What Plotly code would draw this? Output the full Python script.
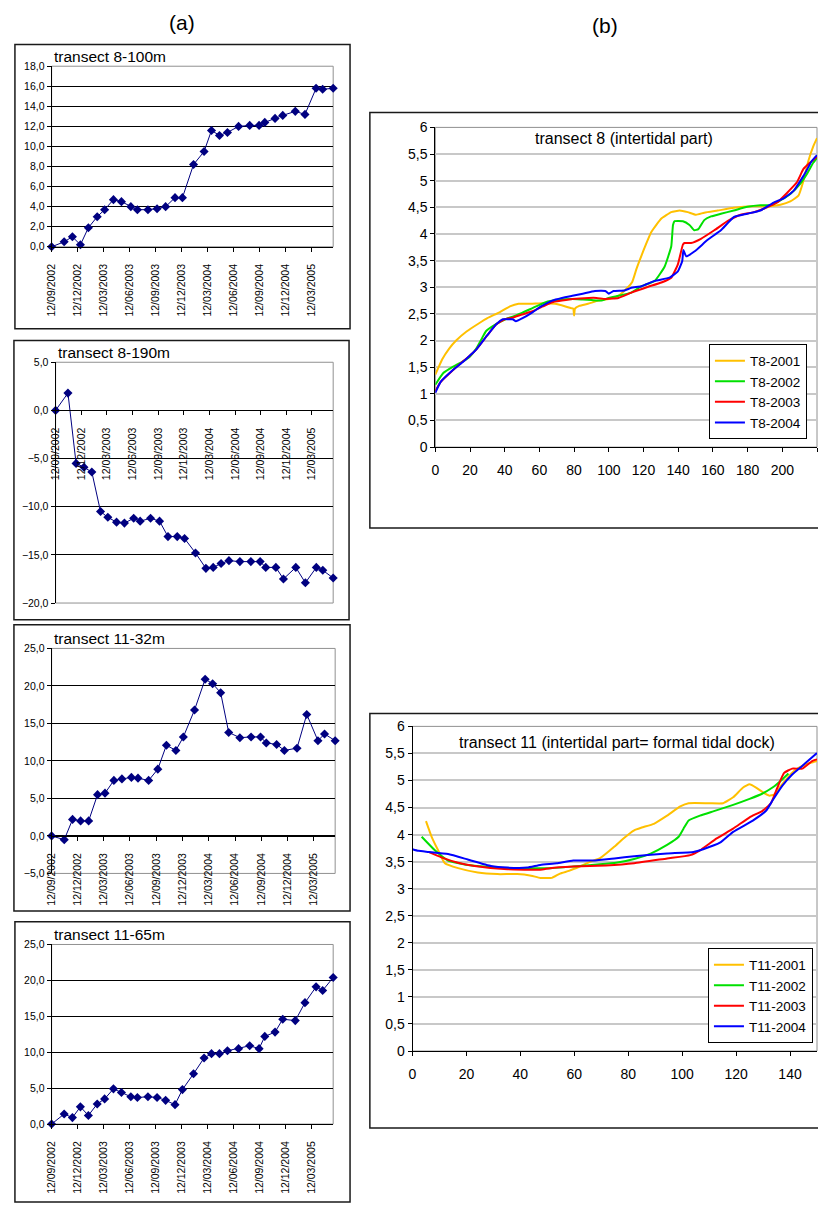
import plotly.graph_objects as go

W, H = 818, 1212

# ---- (a) monthly monitoring, transects 8 and 11 ----
dates = [
    "2002-09-12", "2002-10-26", "2002-11-24", "2002-12-22", "2003-01-19", "2003-02-19",
    "2003-03-17", "2003-04-17", "2003-05-15", "2003-06-17", "2003-07-10", "2003-08-16",
    "2003-09-17", "2003-10-17", "2003-11-19", "2003-12-15", "2004-01-23", "2004-02-29",
    "2004-03-26", "2004-04-23", "2004-05-21", "2004-06-29", "2004-08-07", "2004-09-09",
    "2004-09-29", "2004-11-04", "2004-12-01", "2005-01-14", "2005-02-17", "2005-03-28",
    "2005-04-20", "2005-05-27",
]
t8_100m = [0.0, 0.5, 1.0, 0.2, 1.9, 3.0, 3.7, 4.7, 4.5, 4.0, 3.7, 3.7, 3.8, 4.0, 4.9, 4.9,
           8.2, 9.5, 11.6, 11.1, 11.4, 12.0, 12.1, 12.1, 12.4, 12.8, 13.1, 13.5, 13.2, 15.8, 15.7, 15.8]
t8_190m = [0.0, 1.8, -5.5, -5.9, -6.4, -10.5, -11.1, -11.6, -11.7, -11.2, -11.5, -11.2, -11.5,
           -13.1, -13.1, -13.3, -14.8, -16.4, -16.3, -15.9, -15.6, -15.7, -15.7, -15.7, -16.3,
           -16.3, -17.5, -16.3, -17.9, -16.3, -16.6, -17.4]
t11_32m = [0.0, -0.5, 2.2, 2.0, 2.0, 5.5, 5.7, 7.4, 7.6, 7.8, 7.7, 7.4, 8.9, 12.1, 11.4, 13.2,
           16.8, 20.9, 20.3, 19.1, 13.8, 13.1, 13.2, 13.2, 12.4, 12.2, 11.4, 11.7, 16.2, 12.7, 13.6, 12.7]
t11_65m = [0.0, 1.4, 0.9, 2.4, 1.2, 2.8, 3.5, 4.9, 4.4, 3.8, 3.7, 3.8, 3.7, 3.3, 2.7, 4.8,
           7.0, 9.2, 9.8, 9.8, 10.2, 10.5, 10.9, 10.5, 12.2, 12.8, 14.6, 14.4, 16.9, 19.1, 18.6, 20.4]

# ---- (b) cross-shore profiles (distance m, height m) ----
t8_2001_x = [0, 4, 8, 12, 18, 25, 30, 37, 43, 48, 55, 62, 69, 75, 78, 79.5, 80, 80.5, 83, 88, 94,
             100, 105.5, 111, 113.5, 116, 119, 124.6, 130.3, 136, 140.8, 145.5, 150.3, 155, 162.7,
             172, 183.6, 191, 198.9, 204.6, 209.3, 212.2, 215, 217.9, 220]
t8_2001_y = [1.36, 1.65, 1.85, 2.00, 2.17, 2.32, 2.42, 2.53, 2.64, 2.69, 2.69, 2.70, 2.69, 2.64,
             2.61, 2.60, 2.47, 2.60, 2.65, 2.69, 2.75, 2.78, 2.84, 3.00, 3.10, 3.35, 3.61, 4.04,
             4.29, 4.41, 4.44, 4.41, 4.36, 4.40, 4.44, 4.49, 4.52, 4.52, 4.55, 4.61, 4.72, 5.00,
             5.37, 5.65, 5.80]
t8_2002_x = [0, 4.6, 10.3, 16, 20, 23.6, 27, 29.3, 35, 39.8, 44.6, 50, 56, 63.6, 70, 79, 85, 90,
             96, 100, 105.5, 113, 118.9, 126.5, 132.2, 136, 137, 137.9, 142.7, 146.5, 149.3,
             151.6, 155, 158.9, 164.6, 172, 179.8, 187.4, 193.1, 198.9, 204.6, 210.3, 214.1,
             217.9, 220]
t8_2002_y = [1.17, 1.39, 1.51, 1.61, 1.70, 1.85, 2.05, 2.18, 2.31, 2.39, 2.45, 2.52, 2.61, 2.72,
             2.76, 2.78, 2.77, 2.76, 2.75, 2.80, 2.84, 2.90, 3.02, 3.12, 3.39, 3.77, 4.17, 4.24,
             4.24, 4.17, 4.07, 4.09, 4.26, 4.33, 4.38, 4.44, 4.51, 4.54, 4.54, 4.63, 4.75, 4.94,
             5.12, 5.34, 5.43]
t8_2003_x = [0, 3, 8.4, 16, 20, 23.6, 30, 35, 40, 44.6, 50, 56, 62, 67.4, 73, 79, 88.4, 93, 98,
             105.5, 113, 122.7, 130.3, 136, 139.8, 142.7, 143.6, 147.4, 153.1, 160.8, 168.4, 176,
             183.6, 191.2, 197, 202.7, 208.4, 212.2, 216, 220]
t8_2003_y = [1.05, 1.22, 1.39, 1.61, 1.72, 1.83, 2.10, 2.30, 2.40, 2.43, 2.49, 2.55, 2.64, 2.72,
             2.75, 2.78, 2.80, 2.80, 2.78, 2.80, 2.90, 3.01, 3.09, 3.18, 3.43, 3.80, 3.83, 3.83,
             3.91, 4.07, 4.24, 4.36, 4.41, 4.50, 4.59, 4.77, 4.97, 5.22, 5.34, 5.45]
t8_2004_x = [0, 3, 10.3, 16, 20, 23.6, 30, 35, 38.9, 42, 44.6, 46.5, 50.3, 56, 61, 67.4, 73, 79,
             85, 92, 98, 100, 102.7, 109, 113, 118.9, 126.5, 135, 139.8, 142.3, 143, 144.6, 149.3,
             157, 164.6, 172.2, 179.8, 187.4, 195, 200.8, 206.5, 212.2, 217, 220]
t8_2004_y = [1.02, 1.22, 1.45, 1.60, 1.72, 1.83, 2.10, 2.30, 2.40, 2.40, 2.40, 2.36, 2.42, 2.53,
             2.64, 2.75, 2.80, 2.84, 2.88, 2.93, 2.93, 2.88, 2.93, 2.94, 2.99, 3.02, 3.12, 3.18,
             3.30, 3.49, 3.70, 3.58, 3.67, 3.89, 4.07, 4.32, 4.38, 4.44, 4.59, 4.67, 4.81, 5.09,
             5.37, 5.48]

t11_2001_x = [5, 7.1, 9.5, 12, 16.9, 24.2, 31.5, 38.8, 44, 47.4, 51.7, 54.7, 58, 62, 66, 69.4,
              74.9, 78, 82.2, 85, 89.5, 94.4, 99.3, 102.4, 110, 115.2, 118.9, 122.6, 125, 127.4,
              130, 132.3, 134.1, 136.6, 139.6, 142.1, 146, 150]
t11_2001_y = [4.25, 3.96, 3.71, 3.47, 3.38, 3.30, 3.27, 3.27, 3.24, 3.20, 3.20, 3.28, 3.33, 3.41,
              3.50, 3.56, 3.78, 3.92, 4.08, 4.13, 4.20, 4.35, 4.52, 4.58, 4.58, 4.58, 4.69, 4.87,
              4.93, 4.87, 4.78, 4.72, 4.74, 4.90, 5.08, 5.20, 5.30, 5.36]
t11_2002_x = [3.4, 8.3, 13.2, 20.5, 35.2, 51, 59.6, 69.4, 75.5, 82.2, 88.3, 94.4, 98.7, 100.5,
              102.4, 106.6, 111.5, 118.9, 125, 129.8, 133.5, 137.1, 139.4]
t11_2002_y = [3.96, 3.71, 3.52, 3.44, 3.38, 3.38, 3.41, 3.45, 3.48, 3.55, 3.65, 3.81, 3.96, 4.11,
              4.26, 4.35, 4.43, 4.55, 4.66, 4.76, 4.87, 5.02, 5.13]
t11_2003_x = [5.9, 10.7, 16.9, 23, 35.2, 47.4, 51, 59.6, 71.8, 82.2, 94.4, 103, 106.6, 112.8,
              118.9, 125, 129.8, 132.9, 135.3, 137.8, 140.8, 144.5, 148.2, 150]
t11_2003_y = [3.68, 3.58, 3.48, 3.42, 3.36, 3.35, 3.38, 3.41, 3.43, 3.47, 3.56, 3.62, 3.71, 3.93,
              4.11, 4.32, 4.44, 4.58, 4.87, 5.14, 5.22, 5.22, 5.36, 5.39]
t11_2004_x = [0, 2.2, 5.9, 13.2, 20.5, 29.1, 35.2, 42.5, 47.4, 53.5, 59.6, 67, 74.9, 82.2, 94.4,
              104.2, 107.8, 114, 118.9, 126.2, 131.1, 133.5, 137.1, 140.8, 144.5, 150]
t11_2004_y = [3.73, 3.70, 3.68, 3.64, 3.54, 3.42, 3.39, 3.39, 3.44, 3.47, 3.52, 3.52, 3.56, 3.60,
              3.65, 3.68, 3.73, 3.85, 4.05, 4.26, 4.44, 4.63, 4.90, 5.11, 5.27, 5.51]

years = ["2001", "2002", "2003", "2004"]
year_colors = ["#FFC000", "#00E000", "#FF0000", "#0000FF"]

FONT = "Liberation Sans, Arial, sans-serif"
NARROW = "Liberation Sans Narrow, Liberation Sans, Arial, sans-serif"


def dom_x(a, b):
    return [a / W, b / W]


def dom_y(top, bottom):
    return [1 - bottom / H, 1 - top / H]


def frame(x0, y0, x1, y1):
    return dict(type="rect", xref="paper", yref="paper", x0=x0 / W, x1=x1 / W,
                y0=1 - y1 / H, y1=1 - y0 / H, line=dict(color="#1a1a1a", width=1.5))


def open_frame(x0, y0, y1):
    # frame whose right side runs off the picture: top, left and bottom edges only
    fx, fy = lambda v: v / W, lambda v: 1 - v / H
    path = "M %.5f %.5f L %.5f %.5f L %.5f %.5f L %.5f %.5f" % (
        fx(W), fy(y0), fx(x0), fy(y0), fx(x0), fy(y1), fx(W), fy(y1))
    return dict(type="path", xref="paper", yref="paper", path=path,
                line=dict(color="#1a1a1a", width=1.5))


fig = go.Figure()
shapes, annotations = [], []
layout_axes = {}

# left column: plot box (left, top, right, bottom) and frame, in pixels
left_panels = [
    dict(title="transect 8-100m", values=t8_100m, yrange=[0, 18], dtick=2,
         plot=(45, 59, 329, 242), frame=(8, 37, 346, 325)),
    dict(title="transect 8-190m", values=t8_190m, yrange=[-20, 5], dtick=5,
         plot=(49, 359, 329, 603), frame=(7, 337, 345, 620)),
    dict(title="transect 11-32m", values=t11_32m, yrange=[-5, 25], dtick=5,
         plot=(45, 649, 331, 877), frame=(7, 625, 346, 915)),
    dict(title="transect 11-65m", values=t11_65m, yrange=[0, 25], dtick=5,
         plot=(45, 949, 329, 1131), frame=(8, 926, 346, 1210)),
]

for i, p in enumerate(left_panels, start=1):
    sfx = "" if i == 1 else str(i)
    fig.add_trace(go.Scatter(
        x=dates, y=p["values"], xaxis="x" + sfx, yaxis="y" + sfx,
        mode="lines+markers", cliponaxis=False, showlegend=False,
        line=dict(color="#000080", width=1),
        marker=dict(symbol="diamond", size=7, color="#000080"),
    ))
    l, t, r, b = p["plot"]
    ydom = dom_y(t, b)
    lo, hi = p["yrange"]
    xaxis = dict(domain=dom_x(l, r), type="date",
                 range=["2002-09-12", "2005-05-27"], tick0="2002-09-12", dtick="M3",
                 tickformat="%d/%m/%Y", tickangle=-90, showgrid=False,
                 showline=True, linecolor="black", linewidth=1,
                 ticks="outside", ticklen=4, tickcolor="black",
                 ticklabelstandoff=8,
                 tickfont=dict(family=FONT, size=10.5, color="black"))
    if lo < 0:
        # category axis crosses at zero, like the spreadsheet original
        xaxis.update(anchor="free",
                     position=ydom[0] + (0 - lo) / (hi - lo) * (ydom[1] - ydom[0]))
    else:
        xaxis.update(anchor="y" + sfx)
    layout_axes["xaxis" + sfx] = xaxis
    layout_axes["yaxis" + sfx] = dict(
        domain=ydom, anchor="x" + sfx, range=p["yrange"], dtick=p["dtick"],
        tickformat=".1f", showgrid=True, gridcolor="black", gridwidth=1, zeroline=False,
        showline=True, linecolor="black", linewidth=1,
        ticks="outside", ticklen=4, tickcolor="black",
        tickfont=dict(family=FONT, size=10.5, color="black"))
    shapes.append(dict(type="rect", xref="x%s domain" % sfx, yref="y%s domain" % sfx,
                       x0=0, x1=1, y0=0, y1=1, line=dict(color="#909090", width=1),
                       layer="below"))
    shapes.append(frame(*p["frame"]))
    annotations.append(dict(x=l / W, y=1 - (t - 10) / H, xref="paper", yref="paper",
                            text=p["title"], showarrow=False, xanchor="left", yanchor="middle",
                            font=dict(family=FONT, size=15.5, color="black")))

# right column: cross-shore profiles (cut off at the right edge, as in the original)
right_panels = [
    dict(title="transect 8 (intertidal part)", prefix="T8-", xs=[t8_2001_x, t8_2002_x, t8_2003_x, t8_2004_x],
         ys=[t8_2001_y, t8_2002_y, t8_2003_y, t8_2004_y], xrange=[0, 220],
         plot=(432, 121, 817, 445), frame=(366, 106, 527), title_xy=(622, 132),
         legend=(708, 341)),
    dict(title="transect 11 (intertidal part= formal tidal dock)", prefix="T11-",
         xs=[t11_2001_x, t11_2002_x, t11_2003_x, t11_2004_x],
         ys=[t11_2001_y, t11_2002_y, t11_2003_y, t11_2004_y], xrange=[0, 150],
         plot=(409, 728, 817, 1057), frame=(366, 715, 1135), title_xy=(615, 744),
         legend=(707, 953)),
]

for j, p in enumerate(right_panels):
    n = 5 + j
    leg = "legend" if j == 0 else "legend2"
    for yr, col, xv, yv in zip(years, year_colors, p["xs"], p["ys"]):
        fig.add_trace(go.Scatter(
            x=xv, y=yv, xaxis="x%d" % n, yaxis="y%d" % n, mode="lines",
            name=p["prefix"] + yr, legend=leg,
            line=dict(color=col, width=2, shape="spline", smoothing=0.4),
        ))
    l, t, r, b = p["plot"]
    layout_axes["xaxis%d" % n] = dict(
        domain=dom_x(l, r), anchor="y%d" % n, range=p["xrange"], dtick=20,
        showgrid=False, zeroline=False, showline=True, linecolor="black", linewidth=1,
        ticks="outside", ticklen=4, tickcolor="black",
        ticklabelstandoff=6, tickfont=dict(family=NARROW, size=14, color="black"))
    layout_axes["yaxis%d" % n] = dict(
        domain=dom_y(t, b), anchor="x%d" % n, range=[0, 6], dtick=0.5,
        showgrid=True, gridcolor="#c8c8c8", gridwidth=1.5, zeroline=False,
        showline=True, linecolor="black", linewidth=1,
        ticks="outside", ticklen=4, tickcolor="black",
        tickfont=dict(family=NARROW, size=14, color="black"))
    shapes.append(dict(type="rect", xref="x%d domain" % n, yref="y%d domain" % n,
                       x0=0, x1=1, y0=0, y1=1, line=dict(color="#909090", width=1),
                       layer="below"))
    shapes.append(open_frame(*p["frame"]))
    tx, ty = p["title_xy"]
    annotations.append(dict(x=tx / W, y=1 - ty / H, xref="paper", yref="paper",
                            text=p["title"], showarrow=False, xanchor="center", yanchor="middle",
                            font=dict(family=FONT, size=16, color="black")))
    lx, ly = p["legend"]
    layout_axes[leg] = dict(x=lx / W, y=1 - ly / H, xanchor="left", yanchor="top",
                            bgcolor="white", bordercolor="black", borderwidth=1,
                            font=dict(family=NARROW, size=13.5, color="black"),
                            itemwidth=30, tracegroupgap=0)

# panel letters
for txt, x, y in [("(a)", 177, 15), ("(b)", 603, 18)]:
    annotations.append(dict(x=x / W, y=1 - y / H, xref="paper", yref="paper", text=txt,
                            showarrow=False, xanchor="center", yanchor="middle",
                            font=dict(family=FONT, size=21, color="black")))

fig.update_layout(
    width=W, height=H, margin=dict(l=0, r=0, t=0, b=0),
    paper_bgcolor="white", plot_bgcolor="white",
    separators=", ", showlegend=True,
    shapes=shapes, annotations=annotations,
    **layout_axes,
)

# no page margin so the figure sits at the window's corner
page_css = ("var s = document.createElement('style');"
            "s.innerHTML = 'html, body {margin:0; padding:0; overflow:hidden;}';"
            "document.head.appendChild(s);")
fig.write_html("out.html", config={"displayModeBar": False}, post_script=page_css)
